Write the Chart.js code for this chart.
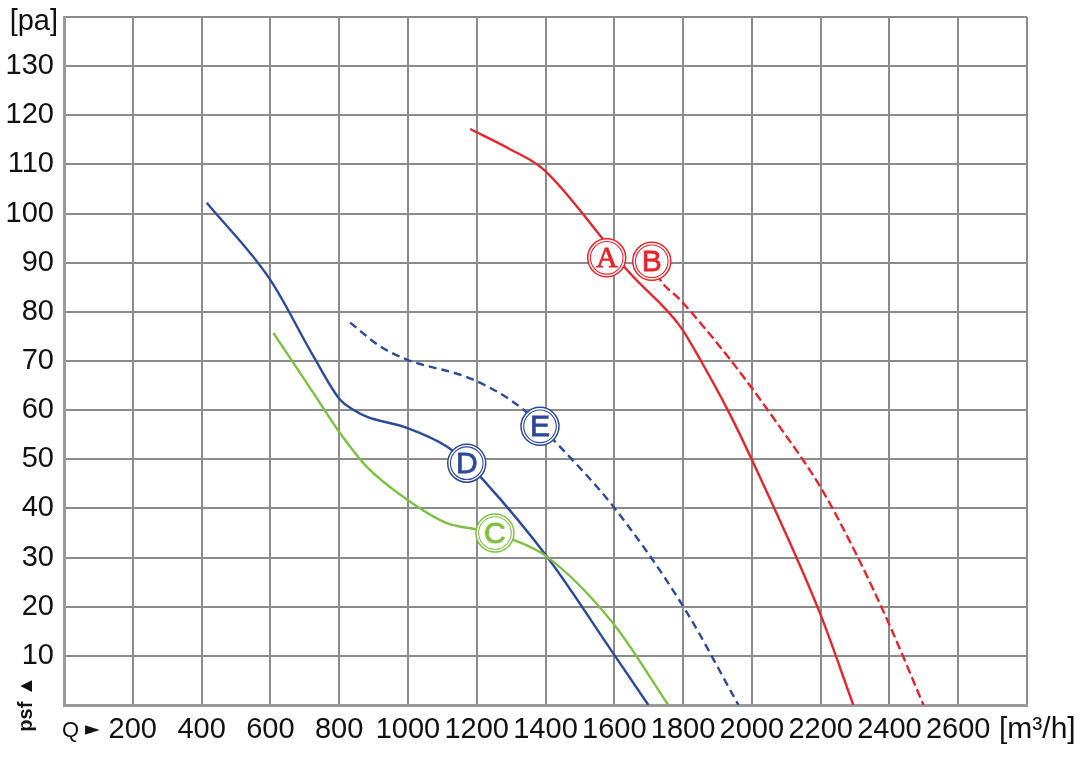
<!DOCTYPE html>
<html>
<head>
<meta charset="utf-8">
<script src="https://cdn.jsdelivr.net/npm/chart.js@4.4.0/dist/chart.umd.min.js"></script>
<style>
html,body{margin:0;padding:0;background:#fff;}
#wrap{width:1090px;height:757px;}
</style>
</head>
<body>
<div id="wrap"><canvas id="c" width="1090" height="757"></canvas></div>
<script>
// ---- data ----
const xTicks = [0,200,400,600,800,1000,1200,1400,1600,1800,2000,2200,2400,2600,2800];
const yTicks = [0,10,20,30,40,50,60,70,80,90,100,110,120,130,140];

const curveA_x = [1181,1297,1394,1568,1636,1791,1852,1930,2000,2198,2295];
const curveA_y = [117.2,113.1,109.0,94.7,88.6,77.1,70.0,60.0,49.9,18.7,0];

const curveB_x = [1709,1733,1791,1937,2082,2198,2305,2402,2499];
const curveB_y = [90.3,86.6,82.5,70.3,56.5,44.5,30.5,16.0,0];

const curveC_x = [609,725,803,880,997,1113,1200,1307,1404,1597,1757];
const curveC_y = [75.7,63.5,55.3,48.5,41.8,37.0,35.7,33.6,30.2,16.6,0];

const curveD_x = [415,599,725,803,841,880,997,1113,1171,1219,1404,1597,1699];
const curveD_y = [102.2,86.6,71.0,62.1,60.1,58.7,56.4,52.6,49.2,45.8,30.2,10.5,0];

const curveE_x = [832,919,997,1190,1336,1384,1432,1597,1801,1961];
const curveE_y = [77.8,73.0,70.3,66.2,60.1,56.7,53.3,40.4,20.0,0];

const markLetters = ['A','B','C','D','E'];
const markX = [1578,1709,1253,1171,1384];
const markY = [91.0,90.3,35.0,49.2,56.7];

// ---- styles ----
const RED = '#e3262c', BLUE = '#2c4a98', GREEN = '#7dc143';
const markColors = [RED, RED, GREEN, BLUE, BLUE];
const markFonts = ['Liberation Serif','Liberation Sans','Liberation Sans','Liberation Sans','Liberation Sans'];
const TICK_FONT = 29;

function pts(xs, ys){ return xs.map((x,i)=>({x:x, y:ys[i]})); }
function ds(xs, ys, color, dash){
  return {data: pts(xs,ys), borderColor: color, borderWidth: 2.4, borderDash: dash||[],
          showLine: true, pointRadius: 0, fill: false, cubicInterpolationMode: 'monotone'};
}

const extras = {
  id: 'extras',
  afterDatasetsDraw(chart){
    const ctx = chart.ctx, xs = chart.scales.x, ys = chart.scales.y;
    for (let i=0;i<markLetters.length;i++){
      const cx = xs.getPixelForValue(markX[i]), cy = ys.getPixelForValue(markY[i]);
      const col = markColors[i];
      ctx.save();
      ctx.beginPath(); ctx.arc(cx, cy, 19, 0, Math.PI*2);
      ctx.fillStyle = '#fff'; ctx.fill();
      ctx.lineWidth = 1.5; ctx.strokeStyle = col; ctx.stroke();
      ctx.beginPath(); ctx.arc(cx, cy, 16.3, 0, Math.PI*2);
      ctx.lineWidth = 1.1; ctx.stroke();
      ctx.font = '30px "' + markFonts[i] + '"';
      ctx.textAlign = 'center'; ctx.textBaseline = 'middle';
      ctx.lineWidth = 0.8; ctx.strokeStyle = col;
      ctx.fillStyle = col;
      ctx.fillText(markLetters[i], cx, cy + 1.5);
      ctx.strokeText(markLetters[i], cx, cy + 1.5);
      ctx.restore();
    }
  },
  afterDraw(chart){
    const ctx = chart.ctx;
    ctx.save();
    ctx.fillStyle = '#111';
    ctx.textBaseline = 'middle';
    ctx.font = TICK_FONT + 'px "Liberation Sans"';
    ctx.textAlign = 'right';
    ctx.fillText('[pa]', 58, 22);
    ctx.textAlign = 'left';
    ctx.font = '30px "Liberation Sans"';
    ctx.fillText('[m\u00B3/h]', 999, 730);
    ctx.font = '22px "Liberation Sans"';
    ctx.fillText('Q', 62, 731);
    ctx.font = '19px "DejaVu Sans"';
    ctx.fillText('\u25BA', 85, 730);
    ctx.translate(26, 704);
    ctx.rotate(-Math.PI/2);
    ctx.textAlign = 'center';
    ctx.font = 'bold 20px "Liberation Sans"';
    ctx.fillText('psf \u25B2', 0, 0);
    ctx.restore();
  }
};

new Chart(document.getElementById('c'), {
  type: 'scatter',
  data: {
    datasets: [
      ds(curveE_x, curveE_y, BLUE, [8,5]),
      ds(curveB_x, curveB_y, RED, [9,4]),
      ds(curveC_x, curveC_y, GREEN),
      ds(curveD_x, curveD_y, BLUE),
      ds(curveA_x, curveA_y, RED)
    ]
  },
  options: {
    responsive: false,
    animation: false,
    devicePixelRatio: 1,
    layout: {padding: {top: 17, right: 63, left: 0, bottom: 0}},
    plugins: {legend: {display: false}, tooltip: {enabled: false}},
    scales: {
      x: {
        type: 'linear', min: xTicks[0], max: xTicks[xTicks.length-1],
        afterBuildTicks(s){ s.ticks = xTicks.map(v=>({value:v})); },
        afterFit(s){ s.height = 52; s.paddingLeft = 0; s.paddingRight = 0; },
        grid: {color: '#8c8c8c', lineWidth: 2, drawTicks: false},
        border: {color: '#9a9a9a', width: 3},
        ticks: {
          color: '#111', padding: 8, maxRotation: 0, autoSkip: false,
          font: {family: 'Liberation Sans', size: TICK_FONT},
          callback: v => (v === 0 || v === 2800) ? '' : String(v)
        }
      },
      y: {
        type: 'linear', min: yTicks[0], max: yTicks[yTicks.length-1],
        afterBuildTicks(s){ s.ticks = yTicks.map(v=>({value:v})); },
        afterFit(s){ s.width = 64; s.paddingTop = 0; s.paddingBottom = 0; },
        grid: {color: '#8c8c8c', lineWidth: 2, drawTicks: false},
        border: {color: '#9a9a9a', width: 3},
        ticks: {
          color: '#111', padding: 10, autoSkip: false,
          font: {family: 'Liberation Sans', size: TICK_FONT},
          callback: v => (v === 0 || v === 140) ? '' : String(v)
        }
      }
    }
  },
  plugins: [extras]
});
</script>
</body>
</html>
